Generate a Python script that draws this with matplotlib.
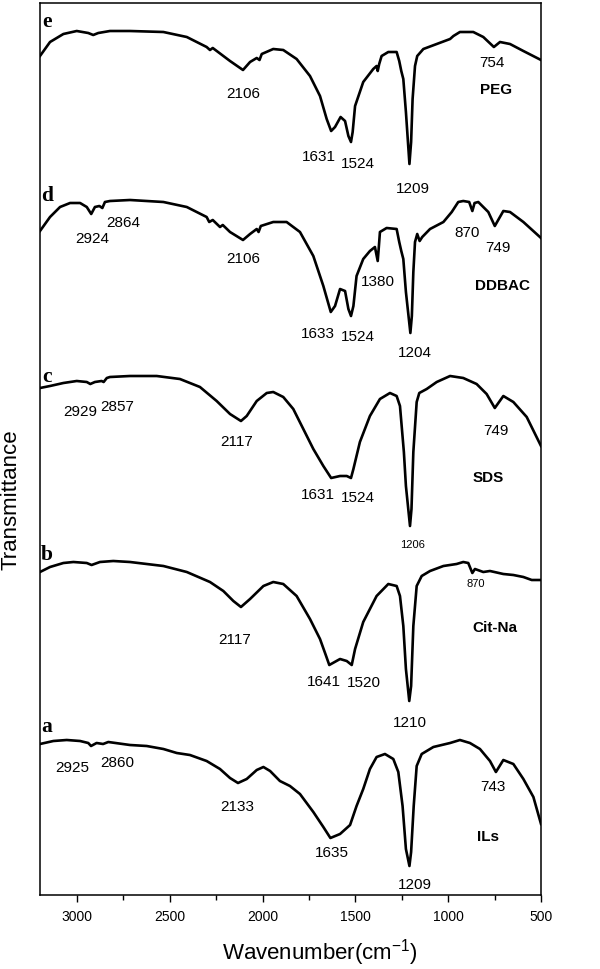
import matplotlib
matplotlib.use("Agg")
import matplotlib.pyplot as plt

plt.rcParams['font.family'] = ['Liberation Sans', 'DejaVu Sans']

# ---------------- data (wavenumber cm-1, offset transmittance a.u.) ----------------
wn_e = [3200, 3146, 3074, 3002, 2940, 2913, 2886, 2823, 2715, 2535, 2409, 2302, 2284, 2269,
        2176, 2106, 2068, 2032, 2017, 2005, 1943, 1889, 1817, 1745, 1691, 1655, 1631, 1610,
        1580, 1556, 1538, 1524, 1515, 1502, 1458, 1404, 1386, 1380, 1372, 1359, 1323, 1278,
        1264, 1253, 1242, 1228, 1209, 1200, 1192, 1179, 1167, 1134, 1062, 990, 972, 937, 865,
        811, 754, 721, 667, 595, 500]
tr_e = [83.9, 85.3, 86.1, 86.4, 86.2, 86.0, 86.2, 86.4, 86.4, 86.3, 85.8, 84.8, 84.5, 84.7,
        83.4, 82.5, 83.3, 83.7, 83.5, 84.1, 84.6, 84.5, 83.6, 81.9, 79.9, 77.6, 76.4, 76.8,
        77.8, 77.4, 75.9, 75.3, 76.3, 78.9, 81.3, 82.6, 82.9, 82.4, 83.1, 83.9, 84.3, 84.3,
        83.4, 82.4, 81.6, 78.3, 73.1, 75.3, 79.6, 82.9, 83.9, 84.6, 85.1, 85.6, 85.9, 86.3, 86.3,
        85.8, 84.8, 85.3, 85.1, 84.4, 83.5]

wn_d = [3200, 3146, 3092, 3038, 2984, 2948, 2924, 2904, 2880, 2864, 2850, 2823, 2715, 2535,
        2409, 2302, 2288, 2269, 2230, 2215, 2176, 2106, 2068, 2032, 2022, 2010, 1943, 1871,
        1799, 1727, 1673, 1633, 1610, 1583, 1556, 1538, 1524, 1511, 1494, 1458, 1422, 1395,
        1380, 1374, 1368, 1332, 1278, 1264, 1253, 1242, 1228, 1204, 1196, 1188, 1179, 1167,
        1154, 1140, 1098, 1026, 981, 946, 919, 887, 870, 858, 838, 784, 749, 703, 667, 595, 500]
tr_d = [66.4, 67.8, 68.8, 69.2, 69.2, 68.8, 68.1, 68.8, 68.9, 68.7, 69.3, 69.4, 69.5, 69.3,
        68.8, 67.8, 67.3, 67.5, 66.8, 67.0, 66.3, 65.5, 66.1, 66.6, 66.3, 66.9, 67.3, 67.3,
        66.3, 63.9, 60.9, 58.3, 58.9, 60.6, 60.4, 58.6, 57.9, 58.9, 61.9, 63.6, 64.4, 64.8,
        63.4, 64.8, 66.3, 66.7, 66.6, 65.3, 64.4, 63.6, 60.3, 56.2, 57.9, 62.3, 65.3, 66.1,
        65.4, 65.8, 66.6, 67.3, 68.3, 69.3, 69.4, 69.3, 68.4, 69.2, 69.3, 68.3, 66.9, 68.4,
        68.3, 67.3, 65.7]

wn_c = [3200, 3146, 3074, 3002, 2948, 2929, 2904, 2868, 2857, 2840, 2823, 2715, 2571, 2446,
        2338, 2248, 2176, 2117, 2086, 2032, 1978, 1943, 1889, 1835, 1781, 1727, 1673, 1631,
        1583, 1547, 1524, 1511, 1476, 1422, 1368, 1314, 1278, 1260, 1239, 1228, 1206, 1198,
        1188, 1170, 1156, 1116, 1062, 990, 919, 847, 793, 749, 703, 649, 577, 500]
tr_c = [50.7, 50.9, 51.2, 51.4, 51.3, 51.1, 51.3, 51.4, 51.3, 51.7, 51.8, 51.9, 51.9, 51.6,
        50.8, 49.4, 48.1, 47.4, 47.9, 49.4, 50.2, 50.3, 49.8, 48.6, 46.6, 44.6, 42.9, 41.7,
        41.9, 41.9, 41.7, 42.6, 45.3, 47.9, 49.6, 50.2, 49.9, 48.9, 44.3, 40.9, 36.9, 38.6,
        44.3, 49.3, 50.2, 50.6, 51.3, 51.9, 51.7, 51.1, 50.1, 48.7, 49.9, 49.3, 47.8, 44.9]

wn_b = [3200, 3146, 3074, 3020, 2948, 2922, 2877, 2805, 2715, 2535, 2409, 2284, 2212, 2158,
        2117, 2068, 1996, 1943, 1889, 1817, 1745, 1691, 1660, 1641, 1583, 1547, 1520, 1502,
        1458, 1386, 1323, 1278, 1260, 1242, 1228, 1210, 1200, 1188, 1170, 1143, 1098, 1026,
        955, 919, 892, 870, 856, 811, 775, 703, 649, 595, 550, 500]
tr_b = [32.3, 32.8, 33.2, 33.3, 33.2, 33.0, 33.3, 33.4, 33.3, 32.9, 32.3, 31.3, 30.4, 29.4,
        28.8, 29.6, 30.9, 31.3, 31.1, 29.9, 27.6, 25.6, 24.0, 23.0, 23.6, 23.4, 23.0, 24.6,
        27.3, 29.9, 31.1, 30.9, 29.9, 26.9, 22.6, 19.4, 20.9, 26.9, 30.9, 31.9, 32.4, 32.9,
        33.1, 33.3, 33.2, 32.2, 32.6, 32.3, 32.4, 32.1, 32.0, 31.8, 31.5, 31.5]

wn_a = [3200, 3128, 3056, 2984, 2940, 2925, 2895, 2860, 2832, 2715, 2625, 2535, 2463, 2392,
        2302, 2230, 2176, 2133, 2086, 2032, 1996, 1960, 1907, 1853, 1799, 1727, 1673, 1635,
        1583, 1529, 1494, 1458, 1422, 1386, 1341, 1296, 1269, 1246, 1228, 1209, 1200, 1186,
        1170, 1143, 1080, 990, 937, 883, 829, 775, 743, 703, 649, 595, 541, 500]
tr_a = [15.1, 15.4, 15.5, 15.4, 15.2, 14.9, 15.2, 15.1, 15.3, 15.0, 14.9, 14.6, 14.2, 14.0,
        13.4, 12.6, 11.7, 11.2, 11.6, 12.5, 12.8, 12.4, 11.4, 10.9, 10.1, 8.3, 6.8, 5.7,
        6.1, 7.0, 8.9, 10.6, 12.6, 13.8, 14.1, 13.6, 12.3, 8.9, 4.6, 2.9, 4.3, 8.9,
        12.9, 14.1, 14.8, 15.2, 15.5, 15.2, 14.6, 13.4, 12.3, 13.5, 13.1, 11.6, 9.8, 7.1]

spectra = [(wn_e, tr_e), (wn_d, tr_d), (wn_c, tr_c), (wn_b, tr_b), (wn_a, tr_a)]

# panel letters
letters = ["e", "d", "c", "b", "a"]
letter_y = [87.4, 70.0, 51.9, 34.1, 16.9]

# sample names
names = ["PEG", "DDBAC", "SDS", "Cit-Na", "ILs"]
names_x = [743, 710, 786, 748, 786]
names_y = [80.6, 61.0, 41.8, 26.8, 5.9]

# peak annotations
peak_text = ["2106", "1631", "1524", "1209", "754",
             "2924", "2864", "2106", "1633", "1524", "1380", "1204", "870", "749",
             "2929", "2857", "2117", "1631", "1524", "1206", "749",
             "2117", "1641", "1520", "1210", "870",
             "2925", "2860", "2133", "1635", "1209", "743"]
peak_x = [2106, 1696, 1486, 1190, 764,
          2920, 2753, 2106, 1702, 1486, 1379, 1179, 899, 732,
          2984, 2785, 2138, 1702, 1486, 1195, 743,
          2149, 1670, 1454, 1206, 850,
          3028, 2785, 2138, 1626, 1179, 759]
peak_y = [80.2, 73.9, 73.2, 70.7, 83.3,
          65.7, 67.3, 63.7, 56.2, 55.9, 61.4, 54.3, 66.3, 64.8,
          48.4, 48.9, 45.4, 40.1, 39.8, 35.1, 46.5,
          25.6, 21.4, 21.3, 17.3, 31.2,
          12.8, 13.3, 8.9, 4.3, 1.1, 10.9]
small_peaks = [19, 25]   # indices of the smaller annotations ("1206", "870" of b)

xticks = [3000, 2500, 2000, 1500, 1000, 500]
xminor = [2750, 2250, 1750, 1250, 750]

# ---------------- figure ----------------
fig = plt.figure(figsize=(6.0, 9.7), dpi=100)
ax = fig.add_axes([40 / 600, 74 / 970, 501 / 600, 892 / 970])

for wn, tr in spectra:
    ax.plot(wn, tr, color="black", lw=1.9, solid_joinstyle="round")

ax.set_xlim(3200, 500)
ax.set_ylim(0, 89.2)

for t, y in zip(letters, letter_y):
    ax.text(3162, y, t, family="Liberation Serif", fontweight="bold", fontsize=15.5,
            ha="center", va="center")

for t, x, y in zip(names, names_x, names_y):
    ax.text(x, y, t, fontweight="bold", fontsize=11, ha="center", va="center")

for i, (t, x, y) in enumerate(zip(peak_text, peak_x, peak_y)):
    ax.text(x, y, t, fontsize=8 if i in small_peaks else 11, ha="center", va="center")

ax.set_xticks(xticks)
ax.set_xticks(xminor, minor=True)
ax.tick_params(axis="x", which="major", direction="out", length=5, width=1.0,
               labelsize=10, pad=5)
ax.tick_params(axis="x", which="minor", direction="out", length=3.5, width=1.0)
ax.set_yticks([])
for s in ax.spines.values():
    s.set_linewidth(1.1)

ax.text((320 - 40) / 501, (896 - 953) / 892, "Wavenumber(cm$^{\\mathregular{-1}}$)",
        transform=ax.transAxes, fontsize=16, ha="center", va="center")
fig.text(11 / 600, 1 - 500 / 970, "Transmittance", rotation=90, fontsize=16,
         ha="center", va="center")

fig.savefig("out.png", dpi=100)
